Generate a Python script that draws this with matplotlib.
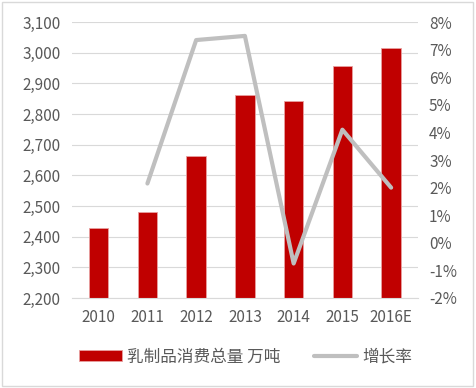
import matplotlib.pyplot as plt
from matplotlib.patches import Rectangle

plt.rcParams['font.family'] = ['Noto Sans CJK SC', 'DejaVu Sans']

years = ['2010', '2011', '2012', '2013', '2014', '2015', '2016E']
consumption = [2428, 2480, 2663, 2862, 2842, 2956, 3015]
growth = [None, 2.15, 7.35, 7.5, -0.75, 4.1, 2.0]

txt = '#595959'
fig = plt.figure(figsize=(4.76, 3.88), dpi=100)
ax = fig.add_axes([0.151, 0.232, 0.727, 0.711])
x = list(range(len(years)))
bars = ax.bar(x, [c - 2200 for c in consumption], bottom=2200, width=0.4,
              color='#C00000', edgecolor='#E8A0A0', linewidth=0.6,
              label='乳制品消费总量 万吨', zorder=2)
ax.set_ylim(2200, 3100)
ax.set_yticks(range(2200, 3101, 100))
ax.set_yticklabels([f'{v:,}' for v in range(2200, 3101, 100)])
ax.set_xlim(-0.55, len(years) - 0.45)
ax.set_xticks(x)
ax.set_xticklabels(years)
ax.grid(axis='y', color='#D9D9D9', linewidth=0.8, zorder=0)
for s in ax.spines.values():
    s.set_visible(False)
ax.spines['bottom'].set_visible(True)
ax.spines['bottom'].set_color('#D9D9D9')
ax.tick_params(length=0, labelsize=11, colors=txt, pad=8)

ax2 = ax.twinx()
gx = [i for i, g in zip(x, growth) if g is not None]
gy = [g for g in growth if g is not None]
line, = ax2.plot(gx, gy, color='#BFBFBF', linewidth=3, label='增长率',
                 solid_capstyle='round', zorder=3)
ax2.set_ylim(-2, 8)
ax2.set_yticks(range(-2, 9))
ax2.set_yticklabels([f'{v}%' for v in range(-2, 9)])
for s in ax2.spines.values():
    s.set_visible(False)
ax2.tick_params(length=0, labelsize=11, colors=txt, pad=8)

fig.legend([bars, line], ['乳制品消费总量 万吨', '增长率'], loc='center',
           bbox_to_anchor=(0.515, 0.08), ncol=2, frameon=False, fontsize=12,
           labelcolor=txt, handlelength=2.6, columnspacing=2.0, handletextpad=0.3)

fig.patches.append(Rectangle((0.004, 0.005), 0.99, 0.99, transform=fig.transFigure,
                             fill=False, edgecolor='#D9D9D9', linewidth=1))
fig.savefig('out.png', dpi=100, facecolor='white')
